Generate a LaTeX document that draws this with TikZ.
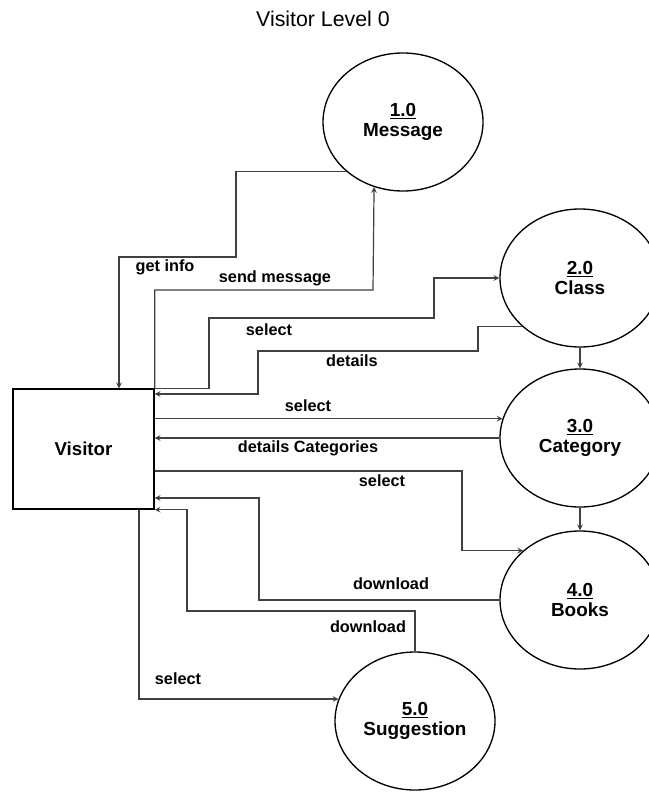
\documentclass[tikz,border=0pt]{standalone}
\usepackage{fontspec}
\setmainfont{Liberation Sans}
\usetikzlibrary{shapes.geometric}

\begin{document}
\begin{tikzpicture}[
    x=0.75pt,y=-0.75pt,
    proc/.style={ellipse,draw=black,line width=1pt,minimum width=120pt,minimum height=103.5pt,align=center,inner sep=0pt,font=\fontsize{14.2}{15.5}\selectfont\bfseries},
    ext/.style={rectangle,draw=black,line width=1pt,minimum width=105.75pt,minimum height=90pt,font=\fontsize{14}{15.5}\selectfont\bfseries},
    flow/.style={->,draw=black!75,line width=0.9pt},
    lbl/.style={font=\fontsize{12.2}{14}\selectfont\bfseries,inner sep=1pt},
    >=stealth
  ]
  \useasboundingbox (0,0) rectangle (649,792);
  \node (title) at (323,19) {\fontsize{16}{18}\selectfont Visitor Level 0};

  \node[ext] (visitor) at (83.5,449) {Visitor};
  \node[proc] (message) at (403,122) {\underline{1.0}\\Message};
  \node[proc] (class) at (580,278) {\underline{2.0}\\Class};
  \node[proc] (category) at (580,438) {\underline{3.0}\\Category};
  \node[proc] (books) at (580,600) {\underline{4.0}\\Books};
  \node[proc] (suggestion) at (415,721) {\underline{5.0}\\Suggestion};

  % Flows
  \draw[flow] (message.221) -| (236,257) -| (visitor.north -| 119,0);
  \draw[flow] (visitor.north east) |- (373,290) -- (message.246);
  \draw[flow] (visitor.north east) -| (209,318) -| (434,278) -- (class.west);
  \draw[flow] (class.220) -| (478,351) -| (258,394) -- (visitor.east |- 0,394);
  \draw[flow] (class.south) -- (category.north);
  \draw[flow] (visitor.east |- category.166) -- (category.166);
  \draw[flow] (category.west) -- (visitor.east |- category.west);
  \draw[flow] (category.south) -- (books.north);
  \draw[flow] (visitor.east |- 0,471) -- (462,471) |- (books.139);
  \draw[flow] (books.west) -| (259,498) -- (visitor.east |- 0,498);
  \draw[flow] (suggestion.north) |- (187,611) |- (visitor.south east);
  \draw[flow] (visitor.south -| 139,0) |- (suggestion.164);

  % Labels
  \node[lbl] (get_info) at (165,267) {get info};
  \node[lbl] (send_msg) at (275,278) {send message};
  \node[lbl] (sel_class) at (269,330) {select};
  \node[lbl] (det_class) at (352,361) {details};
  \node[lbl] (sel_cat) at (308,406) {select};
  \node[lbl] (det_cat) at (308,448) {details Categories};
  \node[lbl] (sel_books) at (382,481) {select};
  \node[lbl] (dl_books) at (391,584) {download};
  \node[lbl] (dl_sugg) at (368,627) {download};
  \node[lbl] (sel_sugg) at (178,679) {select};
\end{tikzpicture}
\end{document}
